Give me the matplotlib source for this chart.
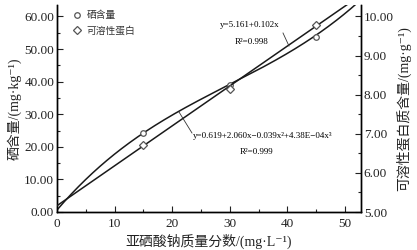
import numpy as np
import matplotlib
matplotlib.use("Agg")
import matplotlib.pyplot as plt
from matplotlib.ticker import MultipleLocator, FormatStrFormatter
from matplotlib.lines import Line2D

plt.rcParams['font.family'] = ['Liberation Serif', 'Noto Sans CJK SC', 'DejaVu Serif']

# data
conc = [15, 30, 45]
se_content = [24.1, 39.0, 53.6]
protein = [6.70, 8.15, 9.77]
se_fit_coef = [0.619, 2.060, -0.039, 4.38e-4]   # cubic
protein_fit_coef = [5.161, 0.102]               # linear
x_label = "亚硒酸钠质量分数/(mg·L⁻¹)"
yl_label = "硒含量/(mg·kg⁻¹)"
yr_label = "可溶性蛋白质含量/(mg·g⁻¹)"
legend_labels = ["硒含量", "可溶性蛋白"]

W, H = 417, 250
fig = plt.figure(figsize=(4.17, 2.5), dpi=100)
ax = fig.add_axes([57/W, 1-212/H, (361-57)/W, (212-5)/H])
ax2 = ax.twinx()

xs = np.linspace(0, 53, 300)
se_curve = sum(c * xs**i for i, c in enumerate(se_fit_coef))
pr_curve = sum(c * xs**i for i, c in enumerate(protein_fit_coef))

lc = '#1a1a1a'
ax.plot(xs, se_curve, color=lc, lw=1.1, zorder=3)
ax.plot(conc, se_content, 'o', ms=4, mfc='white', mec='#555555', mew=0.9, zorder=4)
ax2.plot(xs, pr_curve, color=lc, lw=1.1, zorder=3)
ax2.plot(conc, protein, 'D', ms=4, mfc='white', mec='#555555', mew=0.9, zorder=4)

ax.set_xlim(0, 52.8)
ax.set_ylim(0, 63.5)
ax2.set_ylim(5, 5 + 63.5/12)

ax.xaxis.set_major_locator(MultipleLocator(10))
ax.xaxis.set_minor_locator(MultipleLocator(5))
ax.yaxis.set_major_locator(MultipleLocator(10))
ax.yaxis.set_minor_locator(MultipleLocator(5))
ax.yaxis.set_major_formatter(FormatStrFormatter('%.2f'))
ax2.yaxis.set_major_locator(MultipleLocator(1))
ax2.yaxis.set_minor_locator(MultipleLocator(0.5))
ax2.yaxis.set_major_formatter(FormatStrFormatter('%.2f'))

for a in (ax, ax2):
    a.tick_params(which='both', direction='in', labelsize=9.5, colors='#222222', width=0.8)
    a.tick_params(which='major', length=4)
    a.tick_params(which='minor', length=2.5)
    for s in a.spines.values():
        s.set_linewidth(1.0)
ax.spines['top'].set_visible(False)
ax2.spines['top'].set_visible(False)
ax.tick_params(axis='y', right=False)
ax.tick_params(axis='x', pad=4)
ax.tick_params(axis='y', pad=2)
ax2.tick_params(axis='y', pad=2)

ax.set_xlabel(x_label, fontsize=10, labelpad=3, color='#222222')
ax.set_ylabel(yl_label, fontsize=10, labelpad=2, color='#222222')
ax2.set_ylabel(yr_label, fontsize=10, labelpad=2, color='#222222')

# equations
fs = 6.5
fig.text(250/W, 1-25/H, "y=5.161+0.102x", fontsize=fs, ha='center', va='center')
fig.text(252/W, 1-42/H, "R²=0.998", fontsize=fs, ha='center', va='center')
fig.text(193/W, 1-136/H, "y=0.619+2.060x−0.039x²+4.38E−04x³", fontsize=fs, ha='left', va='center')
fig.text(257/W, 1-152/H, "R²=0.999", fontsize=fs, ha='center', va='center')
for (x0, y0, x1, y1) in [(283, 33, 289, 46), (179, 112, 192, 133)]:
    fig.add_artist(Line2D([x0/W, x1/W], [1-y0/H, 1-y1/H], color='#333333', lw=0.6))

# legend
handles = [Line2D([], [], ls='none', marker='o', ms=4, mfc='white', mec='#555555', mew=0.9),
           Line2D([], [], ls='none', marker='D', ms=4, mfc='white', mec='#555555', mew=0.9)]
ax.legend(handles, legend_labels, loc='upper left', bbox_to_anchor=(0.02, 1.015),
          frameon=False, fontsize=7, handlelength=1, handletextpad=0.5, labelspacing=0.6,
          labelcolor='#333333')

fig.savefig("out.png", dpi=100)
